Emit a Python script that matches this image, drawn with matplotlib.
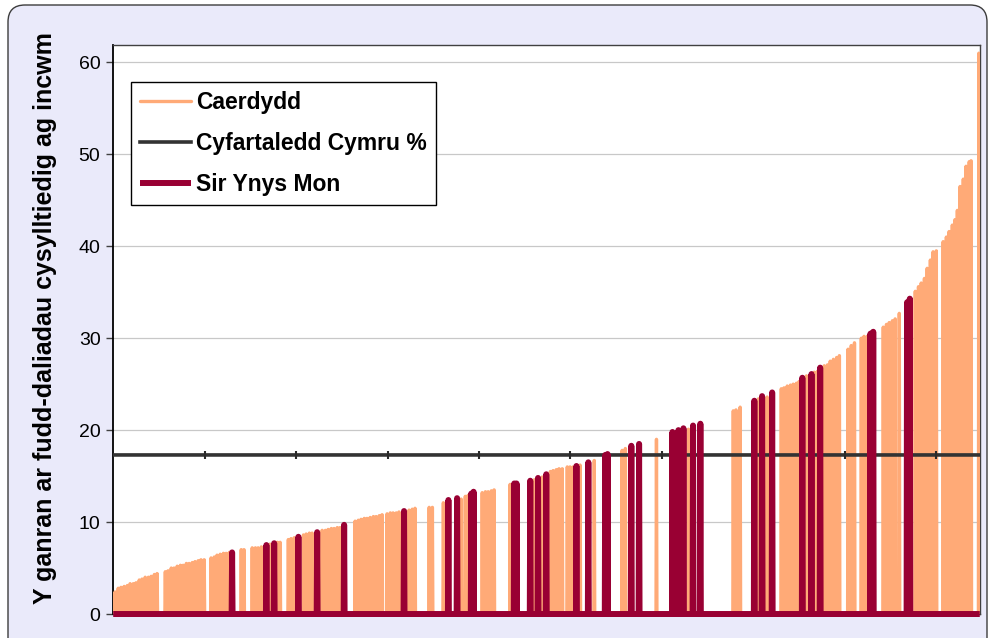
import numpy as np
import matplotlib as mpl
mpl.use("Agg")
import matplotlib.pyplot as plt
from matplotlib.patches import FancyBboxPatch

# all Welsh small areas, ranked by the share on income-related benefits
n_areas = 1896
wales_avg = 17.3

caerdydd_rank = [
    0, 4, 11, 17, 24, 31, 37, 44, 50, 57, 63, 70, 77, 83, 90, 96,
    114, 120, 127, 133, 140, 147, 153, 160, 166, 173, 179, 186, 192, 199,
    214, 221, 227, 234, 241, 247, 254,
    280, 286, 304, 311, 317, 324,
    343, 359, 365,
    383, 389, 396,
    416, 422, 429, 435,
    457, 464, 470, 477, 483, 490, 496,
    529, 536, 542, 549, 555, 562, 569, 575, 582, 588,
    599, 606, 612, 619, 625,
    647, 654, 660,
    691, 698,
    722,
    761, 770, 776,
    807, 814, 820, 827, 833,
    868,
    921, 938,
    956, 962, 969, 975, 982,
    993, 999, 1006, 1021,
    1052,
    1113, 1120,
    1188,
    1258,
    1356, 1362, 1371,
    1411, 1430,
    1461, 1467, 1474, 1481, 1487, 1494, 1500,
    1516, 1533, 1540,
    1555, 1562, 1568, 1575, 1582, 1588,
    1607, 1614, 1621,
    1636, 1642, 1649,
    1684, 1691, 1697, 1704, 1710,
    1719,
    1754, 1761, 1767, 1774, 1780, 1787, 1793, 1800,
    1815, 1822, 1828, 1835, 1841, 1846, 1852, 1859, 1865, 1872, 1876,
    1893,
]
caerdydd_pct = [
    1.9, 2.4, 2.8, 2.9, 3.0, 3.1, 3.3, 3.3, 3.4, 3.7, 3.8, 4.0, 4.0, 4.1, 4.3, 4.4,
    4.6, 4.7, 5.0, 5.0, 5.2, 5.3, 5.3, 5.5, 5.5, 5.6, 5.7, 5.8, 5.9, 5.9,
    6.1, 6.2, 6.4, 6.5, 6.6, 6.6, 6.7,
    7.0, 7.0, 7.2, 7.2, 7.2, 7.3,
    7.6, 7.8, 7.8,
    8.1, 8.2, 8.3,
    8.6, 8.7, 8.8, 8.8,
    9.1, 9.1, 9.2, 9.3, 9.3, 9.4, 9.4,
    10.1, 10.2, 10.3, 10.4, 10.4, 10.5, 10.6, 10.6, 10.7, 10.8,
    10.9, 11.0, 11.0, 11.0, 11.1,
    11.3, 11.4, 11.5,
    11.6, 11.6,
    12.1,
    12.5, 12.8, 12.9,
    13.2, 13.3, 13.3, 13.4, 13.5,
    14.1,
    14.6, 14.9,
    15.5, 15.6, 15.7, 15.8, 15.8,
    16.0, 16.0, 16.0, 16.2,
    16.7,
    17.8, 18.0,
    19.0,
    20.1,
    22.1, 22.2, 22.5,
    23.4, 23.6,
    24.5, 24.6, 24.8, 24.9, 25.0, 25.1, 25.3,
    25.9, 26.3, 26.4,
    27.0, 27.1, 27.5, 27.7, 27.9, 28.1,
    28.8, 29.2, 29.5,
    30.0, 30.2, 30.2,
    31.2, 31.5, 31.7, 31.9, 32.1,
    32.7,
    35.1, 35.6, 36.0, 36.5, 37.6, 38.5, 39.4, 39.5,
    40.5, 41.0, 41.6, 42.3, 42.9, 43.9, 46.5, 47.3, 48.7, 49.2, 49.3,
    61.0,
]

ynys_mon_rank = [
    260, 335, 352, 405, 446, 505, 636, 733, 752, 783, 788, 877, 882, 912,
    929, 947, 1013, 1039, 1076, 1081, 1133, 1150, 1223, 1236, 1247, 1268,
    1284, 1402, 1419, 1441, 1507, 1527, 1546, 1656, 1662, 1736, 1742,
]
ynys_mon_pct = [
    6.7, 7.5, 7.7, 8.4, 8.9, 9.7, 11.2, 12.4, 12.6, 13.1, 13.3, 14.2, 14.2, 14.5,
    14.8, 15.2, 16.1, 16.5, 17.3, 17.4, 18.3, 18.5, 19.8, 20.0, 20.2, 20.5,
    20.7, 23.2, 23.7, 24.1, 25.7, 26.1, 26.8, 30.5, 30.7, 33.9, 34.3,
]

series_labels = ["Caerdydd", "Cyfartaledd Cymru %", "Sir Ynys Mon"]
y_ticks = [0, 10, 20, 30, 40, 50, 60]
y_label = "Y ganran ar fudd-daliadau cysylltiedig ag incwm"

plt.rcParams["font.family"] = ["Liberation Sans", "DejaVu Sans"]

x = np.arange(n_areas)
caerdydd = np.zeros(n_areas)
caerdydd[caerdydd_rank] = caerdydd_pct
ynys_mon = np.zeros(n_areas)
ynys_mon[ynys_mon_rank] = ynys_mon_pct
average = np.full(n_areas, wales_avg)

fig = plt.figure(figsize=(9.91, 6.38), dpi=100, facecolor="white")

# rounded lavender chart area, kept behind the axes
frame = FancyBboxPatch((0.08, -0.3), 9.79, 6.63,
                       boxstyle="round,pad=0,rounding_size=0.17",
                       transform=fig.dpi_scale_trans,
                       facecolor="#EAEAFA", edgecolor="#3C3C3C", linewidth=1.0,
                       zorder=-10)
fig.patches.append(frame)

ax = fig.add_axes([0.114, 0.0376, 0.8749, 0.8920])
ax.set_facecolor("white")

ax.plot(x, caerdydd, color="#FFAA77", lw=2.4, solid_joinstyle="round",
        solid_capstyle="round", label=series_labels[0], zorder=3)
ax.plot(x, average, color="#333333", lw=2.6, label=series_labels[1],
        marker="|", markevery=slice(200, None, 200), markersize=6,
        markeredgewidth=1.5, markeredgecolor="#2A2A2A", zorder=4)
ax.plot(x, ynys_mon, color="#990033", lw=4.3, solid_joinstyle="round",
        solid_capstyle="butt", label=series_labels[2], zorder=5, clip_on=False)

ax.set_xlim(-0.5, n_areas - 0.5)
ax.set_ylim(0, 61.9)
ax.set_xticks([])
ax.set_yticks(y_ticks)
ax.tick_params(axis="y", labelsize=14, length=5, width=1, color="#404040",
               pad=4, labelcolor="black")
ax.yaxis.grid(True, color="#C8C8C8", lw=0.9)
ax.set_axisbelow(True)

for side in ["top", "right", "bottom"]:
    ax.spines[side].set_color("#404040")
    ax.spines[side].set_linewidth(1.0)
ax.spines["left"].set_color("black")
ax.spines["left"].set_linewidth(1.3)

ax.set_ylabel(y_label, fontsize=18, fontweight="bold")
ax.yaxis.set_label_coords(-0.065, 0.52)

leg = ax.legend(loc="upper left", bbox_to_anchor=(0.0208, 0.935),
                borderaxespad=0, fancybox=False, framealpha=1,
                edgecolor="black", prop={"size": 16.5, "weight": "bold"},
                handlelength=2.2, handletextpad=0.25, labelspacing=0.78,
                borderpad=0.4)
leg.get_frame().set_linewidth(1.0)
for h in leg.get_lines():
    h.set_marker("")

fig.savefig("out.png", dpi=100, facecolor="white")
